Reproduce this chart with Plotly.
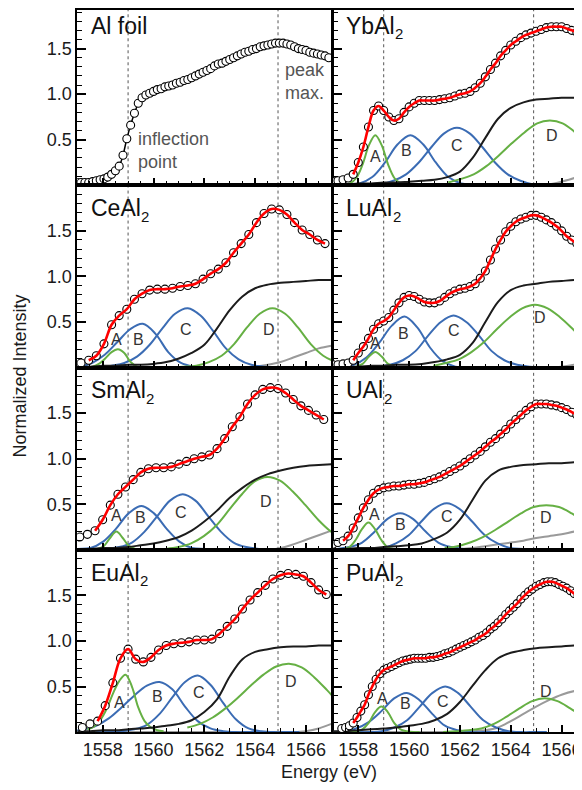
import plotly.graph_objects as go

FONT = "Arial, Liberation Sans, Helvetica, sans-serif"

# ------------------------------------------------------------------ data
# measured spectra: start energy, step (eV) and normalized intensities
al_E0, al_dE = 1557.0, 0.15
al_y = [0.03, 0.03, 0.03, 0.03, 0.04, 0.05, 0.06, 0.07, 0.09, 0.12,
        0.16, 0.21, 0.33, 0.51, 0.66, 0.79, 0.90, 0.96, 0.99, 1.01,
        1.03, 1.05, 1.06, 1.08, 1.09, 1.10, 1.12, 1.13, 1.15, 1.16,
        1.18, 1.20, 1.22, 1.24, 1.26, 1.28, 1.31, 1.33, 1.34, 1.36,
        1.38, 1.40, 1.42, 1.44, 1.46, 1.47, 1.49, 1.50, 1.52, 1.53,
        1.54, 1.55, 1.56, 1.56, 1.56, 1.55, 1.54, 1.52, 1.50, 1.49,
        1.48, 1.46, 1.45, 1.44, 1.43, 1.42, 1.40]

yb_E0, yb_dE = 1557.0, 0.2
yb_y = [0.04, 0.05, 0.06, 0.08, 0.12, 0.25, 0.42, 0.64, 0.82, 0.87,
        0.82, 0.75, 0.71, 0.73, 0.80, 0.86, 0.90, 0.93, 0.93, 0.93,
        0.93, 0.94, 0.95, 0.96, 0.98, 1.00, 1.01, 1.03, 1.07, 1.12,
        1.19, 1.27, 1.34, 1.42, 1.48, 1.54, 1.58, 1.62, 1.65, 1.67,
        1.69, 1.71, 1.73, 1.74, 1.74, 1.74, 1.72, 1.70, 1.68, 1.65,
        1.62]

ce_E0, ce_dE = 1557.15, 0.3
ce_y = [0.05, 0.08, 0.13, 0.26, 0.47, 0.57, 0.64, 0.75, 0.81, 0.85,
        0.86, 0.86, 0.87, 0.89, 0.90, 0.92, 0.97, 1.03, 1.08, 1.15,
        1.26, 1.36, 1.46, 1.59, 1.69, 1.74, 1.73, 1.68, 1.59, 1.51,
        1.46, 1.40, 1.36]

lu_E0, lu_dE = 1557.0, 0.2
lu_y = [0.03, 0.03, 0.04, 0.05, 0.08, 0.16, 0.23, 0.32, 0.42, 0.48,
        0.51, 0.55, 0.63, 0.71, 0.77, 0.79, 0.78, 0.75, 0.72, 0.71,
        0.71, 0.73, 0.77, 0.81, 0.84, 0.86, 0.87, 0.89, 0.92, 0.98,
        1.06, 1.18, 1.30, 1.40, 1.49, 1.55, 1.60, 1.63, 1.65, 1.67,
        1.67, 1.65, 1.62, 1.59, 1.55, 1.50, 1.44, 1.40, 1.36, 1.33,
        1.30]

sm_E0, sm_dE = 1557.1, 0.3
sm_y = [0.14, 0.17, 0.21, 0.33, 0.49, 0.61, 0.69, 0.77, 0.85, 0.89,
        0.90, 0.90, 0.91, 0.94, 0.97, 1.00, 1.02, 1.04, 1.11, 1.22,
        1.35, 1.46, 1.60, 1.70, 1.76, 1.78, 1.77, 1.72, 1.65, 1.58,
        1.53, 1.48, 1.43]

u_E0, u_dE = 1557.0, 0.2
u_y = [0.06, 0.08, 0.10, 0.15, 0.24, 0.35, 0.46, 0.55, 0.62, 0.66,
       0.68, 0.69, 0.70, 0.70, 0.71, 0.72, 0.72, 0.73, 0.74, 0.76,
       0.78, 0.80, 0.83, 0.86, 0.89, 0.92, 0.96, 1.00, 1.04, 1.08,
       1.13, 1.18, 1.22, 1.27, 1.32, 1.38, 1.43, 1.48, 1.53, 1.57,
       1.60, 1.60, 1.60, 1.59, 1.58, 1.56, 1.54, 1.51, 1.48, 1.44,
       1.41]

eu_E0, eu_dE = 1557.2, 0.3
eu_y = [0.05, 0.09, 0.12, 0.29, 0.54, 0.81, 0.91, 0.80, 0.77, 0.82,
        0.90, 0.95, 0.97, 0.98, 0.99, 1.01, 1.01, 1.02, 1.08, 1.16,
        1.24, 1.35, 1.45, 1.53, 1.61, 1.68, 1.72, 1.74, 1.73, 1.71,
        1.64, 1.56, 1.51]

pu_E0, pu_dE = 1557.35, 0.15
pu_y = [0.04, 0.05, 0.07, 0.10, 0.16, 0.23, 0.30, 0.41, 0.50, 0.58,
        0.64, 0.68, 0.70, 0.72, 0.74, 0.76, 0.78, 0.79, 0.80, 0.81,
        0.81, 0.81, 0.81, 0.82, 0.82, 0.83, 0.84, 0.86, 0.87, 0.89,
        0.91, 0.93, 0.95, 0.97, 0.99, 1.01, 1.04, 1.06, 1.09, 1.13,
        1.16, 1.20, 1.24, 1.29, 1.33, 1.37, 1.41, 1.46, 1.50, 1.54,
        1.57, 1.60, 1.62, 1.64, 1.65, 1.65, 1.64, 1.62, 1.60, 1.58,
        1.55, 1.52, 1.50, 1.47, 1.45]

# fit components: peaks sampled at offsets (eV) from their centres,
# edge (black) and background (gray) sampled on a fixed energy grid
PEAK_OFFSETS = [-4.0, -3.5, -3.0, -2.5, -2.0, -1.5, -1.0, -0.5, 0.0,
                0.5, 1.0, 1.5, 2.0, 2.5, 3.0, 3.5, 4.0]
A_OFFSETS = [-1.5, -1.25, -1.0, -0.75, -0.5, -0.25, 0.0,
             0.25, 0.5, 0.75, 1.0, 1.25, 1.5]
EDGE_GRID = [1557.0, 1557.5, 1558.0, 1558.5, 1559.0, 1559.5, 1560.0,
             1560.5, 1561.0, 1561.5, 1562.0, 1562.5, 1563.0, 1563.5,
             1564.0, 1564.5, 1565.0, 1565.5, 1566.0, 1566.5, 1567.0]

# centres of peaks A, B, C, D
yb_centers = [1558.67, 1560.05, 1561.88, 1565.54]
yb_A = [0, 0, 0.02, 0.08, 0.23, 0.44, 0.55, 0.44, 0.23, 0.08, 0.02, 0, 0]
yb_B = [0, 0, 0, 0.01, 0.02, 0.09, 0.25, 0.45, 0.55, 0.45, 0.25, 0.09, 0.02, 0.01, 0, 0, 0]
yb_C = [0, 0, 0.01, 0.05, 0.12, 0.25, 0.42, 0.57, 0.63, 0.57, 0.42, 0.25, 0.12, 0.05, 0.01, 0, 0]
yb_D = [0.03, 0.07, 0.12, 0.21, 0.33, 0.46, 0.58, 0.68, 0.71, 0.68, 0.58, 0.46, 0.33, 0.21, 0.12, 0.07, 0.03]
yb_edge = [0.01, 0.01, 0.02, 0.02, 0.03, 0.03, 0.04, 0.05, 0.06, 0.09, 0.15,
           0.30, 0.52, 0.73, 0.85, 0.91, 0.94, 0.95, 0.96, 0.96, 0.97]
yb_bg = [0, 0, 0, 0, 0, 0, 0, 0, 0, 0, 0, 0, 0, 0, 0, 0, 0, 0.01, 0.04, 0.08, 0.14]

ce_centers = [1558.6, 1559.58, 1561.35, 1564.68]
ce_A = [0, 0, 0.01, 0.04, 0.10, 0.17, 0.20, 0.16, 0.06, 0.01, 0, 0, 0]
ce_B = [0, 0, 0.01, 0.01, 0.05, 0.14, 0.28, 0.42, 0.48, 0.37, 0.17, 0.05, 0.01, 0, 0, 0, 0]
ce_C = [0, 0, 0.02, 0.05, 0.12, 0.25, 0.43, 0.59, 0.65, 0.57, 0.40, 0.21, 0.09, 0.03, 0.01, 0, 0]
ce_D = [0, 0.01, 0.02, 0.06, 0.13, 0.26, 0.44, 0.59, 0.65, 0.59, 0.44, 0.26, 0.13, 0.06, 0.02, 0.01, 0]
ce_edge = [0.01, 0.01, 0.02, 0.02, 0.03, 0.03, 0.04, 0.06, 0.10, 0.16, 0.25,
           0.43, 0.63, 0.78, 0.87, 0.91, 0.93, 0.94, 0.95, 0.96, 0.96]
ce_bg = [0, 0, 0, 0, 0, 0, 0, 0, 0, 0, 0, 0, 0, 0, 0.01, 0.03, 0.06, 0.11, 0.16, 0.21, 0.24]

lu_centers = [1558.67, 1559.82, 1561.75, 1564.95]
lu_A = [0, 0, 0, 0.01, 0.04, 0.12, 0.17, 0.12, 0.04, 0.01, 0, 0, 0]
lu_B = [0, 0, 0, 0.01, 0.03, 0.11, 0.27, 0.46, 0.56, 0.44, 0.22, 0.07, 0.01, 0, 0, 0, 0]
lu_C = [0, 0, 0.01, 0.03, 0.08, 0.18, 0.35, 0.50, 0.57, 0.50, 0.35, 0.18, 0.08, 0.03, 0.01, 0, 0]
lu_D = [0.02, 0.05, 0.09, 0.17, 0.28, 0.42, 0.55, 0.65, 0.69, 0.65, 0.55, 0.42, 0.28, 0.17, 0.09, 0.05, 0.02]
lu_edge = [0.01, 0.01, 0.01, 0.02, 0.02, 0.03, 0.03, 0.04, 0.06, 0.09, 0.14,
           0.27, 0.50, 0.72, 0.85, 0.90, 0.92, 0.94, 0.95, 0.96, 0.96]
lu_bg = [0, 0, 0, 0, 0, 0, 0, 0, 0, 0, 0, 0, 0, 0, 0, 0, 0, 0, 0.01, 0.03, 0.05]

sm_centers = [1558.54, 1559.52, 1561.15, 1564.48]
sm_A = [0, 0, 0, 0.01, 0.04, 0.13, 0.20, 0.13, 0.04, 0.01, 0, 0, 0]
sm_B = [0, 0, 0, 0.01, 0.02, 0.09, 0.23, 0.40, 0.48, 0.40, 0.23, 0.09, 0.02, 0.01, 0, 0, 0]
sm_C = [0, 0, 0.01, 0.03, 0.08, 0.20, 0.37, 0.54, 0.61, 0.54, 0.37, 0.20, 0.08, 0.03, 0.01, 0, 0]
sm_D = [0.01, 0.03, 0.07, 0.15, 0.27, 0.44, 0.61, 0.75, 0.80, 0.76, 0.64, 0.49, 0.33, 0.20, 0.11, 0.05, 0.02]
sm_edge = [0.01, 0.01, 0.02, 0.02, 0.03, 0.05, 0.07, 0.10, 0.14, 0.21, 0.31,
           0.43, 0.57, 0.68, 0.77, 0.83, 0.87, 0.90, 0.92, 0.93, 0.94]
sm_bg = [0, 0, 0, 0, 0, 0, 0, 0, 0, 0, 0, 0, 0, 0, 0, 0, 0.02, 0.06, 0.11, 0.16, 0.21]

u_centers = [1558.65, 1559.65, 1561.48, 1565.4]
u_A = [0, 0.01, 0.03, 0.11, 0.23, 0.30, 0.23, 0.11, 0.03, 0.01, 0, 0, 0]
u_B = [0, 0, 0, 0.01, 0.03, 0.08, 0.20, 0.34, 0.40, 0.34, 0.20, 0.08, 0.03, 0.01, 0, 0, 0]
u_C = [0, 0, 0.01, 0.02, 0.07, 0.16, 0.31, 0.45, 0.51, 0.45, 0.31, 0.16, 0.07, 0.02, 0.01, 0, 0]
u_D = [0.02, 0.04, 0.08, 0.14, 0.22, 0.31, 0.40, 0.47, 0.49, 0.47, 0.40, 0.31, 0.22, 0.14, 0.08, 0.04, 0.02]
u_edge = [0.01, 0.01, 0.02, 0.02, 0.03, 0.04, 0.05, 0.07, 0.12, 0.19, 0.33,
          0.55, 0.76, 0.87, 0.91, 0.93, 0.94, 0.95, 0.95, 0.96, 0.96]
u_bg = [0, 0, 0, 0, 0, 0, 0, 0, 0, 0, 0.01, 0.02, 0.04, 0.06, 0.08, 0.10, 0.13, 0.15, 0.17, 0.20, 0.22]

eu_centers = [1558.9, 1560.24, 1561.74, 1565.33]
eu_A = [0.03, 0.06, 0.13, 0.25, 0.42, 0.56, 0.63, 0.50, 0.27, 0.12, 0.05, 0.02, 0.01]
eu_B = [0, 0.01, 0.03, 0.07, 0.15, 0.27, 0.40, 0.51, 0.55, 0.47, 0.28, 0.12, 0.04, 0.01, 0, 0, 0]
eu_C = [0, 0, 0.01, 0.03, 0.08, 0.20, 0.38, 0.55, 0.62, 0.52, 0.32, 0.14, 0.04, 0.01, 0, 0, 0]
eu_D = [0.05, 0.09, 0.16, 0.26, 0.38, 0.51, 0.63, 0.72, 0.75, 0.71, 0.60, 0.46, 0.31, 0.19, 0.10, 0.05, 0.02]
eu_edge = [0.01, 0.01, 0.02, 0.02, 0.03, 0.04, 0.05, 0.07, 0.09, 0.13, 0.22,
           0.36, 0.61, 0.80, 0.88, 0.91, 0.93, 0.94, 0.94, 0.95, 0.95]
eu_bg = [0, 0, 0, 0, 0, 0, 0, 0, 0, 0, 0, 0, 0, 0, 0, 0, 0, 0, 0.01, 0.04, 0.09]

pu_centers = [1558.91, 1559.91, 1561.42, 1565.34]
pu_A = [0, 0, 0.01, 0.03, 0.10, 0.22, 0.28, 0.22, 0.10, 0.03, 0.01, 0, 0]
pu_B = [0, 0, 0, 0.01, 0.04, 0.11, 0.23, 0.37, 0.43, 0.35, 0.20, 0.07, 0.02, 0, 0, 0, 0]
pu_C = [0, 0, 0, 0.01, 0.05, 0.13, 0.28, 0.43, 0.50, 0.43, 0.28, 0.13, 0.05, 0.01, 0, 0, 0]
pu_D = [0, 0.01, 0.02, 0.04, 0.09, 0.17, 0.26, 0.34, 0.37, 0.34, 0.26, 0.17, 0.09, 0.04, 0.02, 0.01, 0]
pu_edge = [0.01, 0.01, 0.02, 0.03, 0.04, 0.05, 0.07, 0.09, 0.13, 0.20, 0.33,
           0.51, 0.68, 0.81, 0.87, 0.90, 0.92, 0.93, 0.94, 0.95, 0.95]
pu_bg = [0, 0, 0, 0, 0, 0, 0, 0, 0, 0, 0, 0.01, 0.02, 0.05, 0.12, 0.20, 0.28, 0.35, 0.41, 0.45, 0.47]

MARK_LINES = [1559.0, 1564.9]          # inflection point / peak maximum
X_TICKS = [1558, 1560, 1562, 1564, 1566]
Y_TICKS = [0.5, 1.0, 1.5]
Y_TICKTEXT = ["0.5", "1.0", "1.5"]

# panel titles: main text and subscript
TITLES = [("Al foil", ""), ("YbAl", "2"), ("CeAl", "2"), ("LuAl", "2"),
          ("SmAl", "2"), ("UAl", "2"), ("EuAl", "2"), ("PuAl", "2")]

# ------------------------------------------------------------------ panels
panels = [
    dict(E0=al_E0, dE=al_dE, y=al_y, red=None, comp=None),
    dict(E0=yb_E0, dE=yb_dE, y=yb_y, red=4,
         comp=(yb_centers, yb_A, yb_B, yb_C, yb_D, yb_edge, yb_bg)),
    dict(E0=ce_E0, dE=ce_dE, y=ce_y, red=1,
         comp=(ce_centers, ce_A, ce_B, ce_C, ce_D, ce_edge, ce_bg)),
    dict(E0=lu_E0, dE=lu_dE, y=lu_y, red=4,
         comp=(lu_centers, lu_A, lu_B, lu_C, lu_D, lu_edge, lu_bg)),
    dict(E0=sm_E0, dE=sm_dE, y=sm_y, red=2,
         comp=(sm_centers, sm_A, sm_B, sm_C, sm_D, sm_edge, sm_bg)),
    dict(E0=u_E0, dE=u_dE, y=u_y, red=2,
         comp=(u_centers, u_A, u_B, u_C, u_D, u_edge, u_bg)),
    dict(E0=eu_E0, dE=eu_dE, y=eu_y, red=2,
         comp=(eu_centers, eu_A, eu_B, eu_C, eu_D, eu_edge, eu_bg)),
    dict(E0=pu_E0, dE=pu_dE, y=pu_y, red=3,
         comp=(pu_centers, pu_A, pu_B, pu_C, pu_D, pu_edge, pu_bg)),
]

# label anchor points (energy, intensity) for A, B, C, D in each panel
LABEL_POS = [
    None,
    [(1558.67, 0.32), (1559.9, 0.38), (1561.88, 0.44), (1565.63, 0.55)],
    [(1558.54, 0.31), (1559.42, 0.31), (1561.28, 0.42), (1564.55, 0.42)],
    [(1558.67, 0.26), (1559.78, 0.37), (1561.75, 0.41), (1565.14, 0.55)],
    [(1558.56, 0.38), (1559.48, 0.35), (1561.1, 0.41), (1564.44, 0.53)],
    [(1558.63, 0.39), (1559.65, 0.28), (1561.48, 0.37), (1565.4, 0.36)],
    [(1558.67, 0.33), (1560.17, 0.39), (1561.78, 0.43), (1565.4, 0.55)],
    [(1558.95, 0.37), (1559.85, 0.31), (1561.35, 0.34), (1565.37, 0.45)],
]

# ------------------------------------------------------------------ geometry
# the page body adds an 8 px offset, so figure coordinates = screen - 8
W, H = 582, 790
SH = 8.0
PX_PER_EV = 25.5
PX_PER_UNIT = 91.25
COL_PX = [(77.5 - SH, 333.0 - SH), (334.0 - SH, 582.0)]
ROW_PX = [(1.0, 184.5 - SH), (184.5 - SH, 367.0 - SH),
          (367.0 - SH, 549.5 - SH), (549.5 - SH, 732.0 - SH)]
TITLE_SIZE = 23
SUB_SIZE = 15
# approximate advance widths (em) of Liberation Sans glyphs used in titles
GLYPH_EM = {"A": 0.667, "l": 0.222, " ": 0.278, "f": 0.278, "o": 0.556, "i": 0.222,
            "Y": 0.667, "b": 0.556, "C": 0.722, "e": 0.556, "L": 0.556, "u": 0.556,
            "S": 0.667, "m": 0.833, "U": 0.722, "E": 0.667, "P": 0.667}

GREEN = "#66b044"
BLUE = "#3b6cb4"
BLACK = "#1c1c1c"
GRAY = "#9a9a9a"
RED = "#ff0000"

fig = go.Figure()
layout = dict(
    width=W, height=H,
    margin=dict(l=0, r=0, t=0, b=0),
    paper_bgcolor="white", plot_bgcolor="white",
    showlegend=False,
    font=dict(family=FONT, size=18, color="#1a1a1a"),
)
shapes = []
annotations = []

for p, pan in enumerate(panels):
    row, col = divmod(p, 2)
    n = p + 1
    xs = "" if n == 1 else str(n)
    xref, yref = "x" + xs, "y" + xs
    x0p, x1p = COL_PX[col]
    t_px, b_px = ROW_PX[row]
    xrange = [1557.0, 1557.0 + (x1p - x0p) / PX_PER_EV]
    yrange = [0.0, (b_px - t_px) / PX_PER_UNIT]

    bottom = row == 3
    left = col == 0
    layout["xaxis" + xs] = dict(
        domain=[x0p / W, x1p / W], anchor=yref, range=xrange,
        showgrid=False, zeroline=False,
        showline=True, linewidth=2, linecolor="black", mirror=True,
        ticks="inside", ticklen=7, tickwidth=1.5, tickcolor="black",
        tickvals=X_TICKS, ticktext=[str(v) for v in X_TICKS],
        showticklabels=bottom, ticklabeloverflow="allow",
        tickfont=dict(size=18, color="#1a1a1a"),
        minor=dict(dtick=0.5, tick0=1557, ticks="inside", ticklen=4,
                   tickwidth=1.2, tickcolor="black"),
    )
    layout["yaxis" + xs] = dict(
        domain=[1 - b_px / H, 1 - t_px / H], anchor=xref, range=yrange,
        showgrid=False, zeroline=False,
        showline=True, linewidth=2, linecolor="black",
        mirror=True,
        ticks="inside", ticklen=9, tickwidth=1.5, tickcolor="black",
        tickvals=Y_TICKS, ticktext=Y_TICKTEXT,
        showticklabels=left,
        tickfont=dict(size=18, color="#1a1a1a"),
        minor=dict(dtick=0.1, tick0=0, ticks="inside", ticklen=5,
                   tickwidth=1.2, tickcolor="black"),
    )

    for e in MARK_LINES:
        shapes.append(dict(type="line", xref=xref, yref=yref + " domain",
                           x0=e, x1=e, y0=0, y1=1, layer="below",
                           line=dict(color="#555555", width=1, dash="dot")))

    ex = [pan["E0"] + pan["dE"] * i for i in range(len(pan["y"]))]

    if pan["comp"] is not None:
        centers, cA, cB, cC, cD, edge, bg = pan["comp"]
        lw = 2
        fig.add_trace(go.Scatter(x=EDGE_GRID, y=bg, mode="lines", xaxis=xref, yaxis=yref,
                                 line=dict(color=GRAY, width=lw, shape="spline")))
        for cen, vals in ((centers[1], cB), (centers[2], cC)):
            fig.add_trace(go.Scatter(x=[cen + o for o in PEAK_OFFSETS], y=vals, mode="lines",
                                     xaxis=xref, yaxis=yref,
                                     line=dict(color=BLUE, width=lw, shape="spline")))
        fig.add_trace(go.Scatter(x=[centers[0] + o for o in A_OFFSETS], y=cA, mode="lines",
                                 xaxis=xref, yaxis=yref,
                                 line=dict(color=GREEN, width=lw, shape="spline")))
        fig.add_trace(go.Scatter(x=[centers[3] + o for o in PEAK_OFFSETS], y=cD, mode="lines",
                                 xaxis=xref, yaxis=yref,
                                 line=dict(color=GREEN, width=lw, shape="spline")))
        fig.add_trace(go.Scatter(x=EDGE_GRID, y=edge, mode="lines", xaxis=xref, yaxis=yref,
                                 line=dict(color=BLACK, width=lw, shape="spline")))
        fig.add_trace(go.Scatter(x=ex, y=pan["y"], mode="markers", xaxis=xref, yaxis=yref,
                                 marker=dict(symbol="circle", size=8, color="white",
                                             line=dict(color="black", width=1.1))))
        s = pan["red"]
        fig.add_trace(go.Scatter(x=ex[s:], y=pan["y"][s:], mode="lines", xaxis=xref, yaxis=yref,
                                 line=dict(color=RED, width=2.6, shape="spline")))
        for lab, (lx, ly) in zip("ABCD", LABEL_POS[p]):
            annotations.append(dict(x=lx, y=ly, xref=xref, yref=yref, text=lab,
                                    showarrow=False, font=dict(size=16, color="#333333")))
    else:
        fig.add_trace(go.Scatter(x=ex, y=pan["y"], mode="lines+markers", xaxis=xref, yaxis=yref,
                                 line=dict(color="black", width=1.5, shape="spline"),
                                 marker=dict(symbol="circle", size=8, color="white",
                                             line=dict(color="black", width=1.1))))
        annotations.append(dict(x=1559.3, y=0.38, xref=xref, yref=yref,
                                text="inflection<br>point", align="left",
                                xanchor="left", yanchor="middle", showarrow=False,
                                font=dict(size=18, color="#555555")))
        annotations.append(dict(x=1565.1, y=1.14, xref=xref, yref=yref,
                                text="peak<br>max.", align="left",
                                xanchor="left", yanchor="middle", showarrow=False,
                                font=dict(size=18, color="#555555")))

    main, sub = TITLES[p]
    annotations.append(dict(x=1557.45, y=1.75, xref=xref, yref=yref, text=main,
                            xanchor="left", yanchor="middle", showarrow=False,
                            font=dict(size=TITLE_SIZE, color="#111111")))
    if sub:
        wpx = sum(GLYPH_EM.get(ch, 0.556) for ch in main) * TITLE_SIZE
        annotations.append(dict(x=1557.45, y=1.75, xref=xref, yref=yref, text=sub,
                                xanchor="left", yanchor="middle", showarrow=False,
                                xshift=wpx + 0.5, yshift=-8,
                                font=dict(size=SUB_SIZE, color="#111111")))

annotations.append(dict(x=(20 - SH) / W, y=1 - (375 - SH) / H, xref="paper", yref="paper",
                        text="Normalized Intensity", textangle=-90, showarrow=False,
                        xanchor="center", yanchor="middle",
                        font=dict(size=18, color="#1a1a1a")))
annotations.append(dict(x=(330 - SH) / W, y=1 - (772 - SH) / H, xref="paper", yref="paper",
                        text="Energy (eV)", showarrow=False,
                        xanchor="center", yanchor="middle",
                        font=dict(size=18, color="#1a1a1a")))

layout["shapes"] = shapes
layout["annotations"] = annotations
fig.update_layout(**layout)
fig.write_html("out.html")
